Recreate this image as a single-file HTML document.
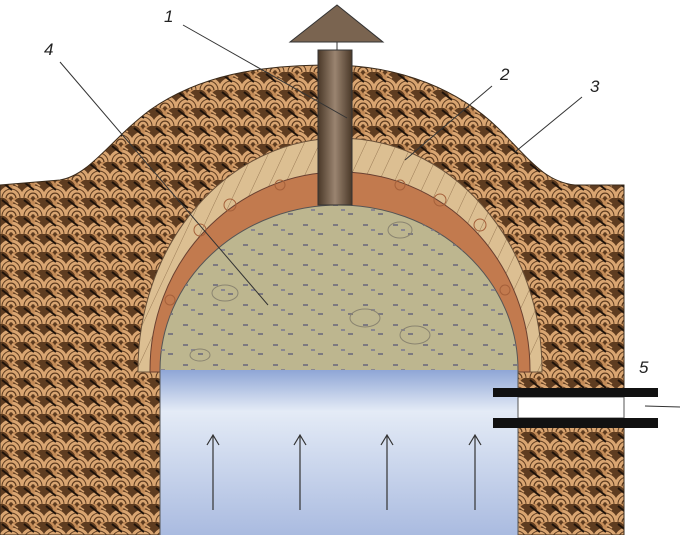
<!DOCTYPE html>
<html><head><meta charset="utf-8"><style>
html,body{margin:0;padding:0;background:#fff;}
svg{display:block}
text{font-family:"Liberation Sans",sans-serif;font-style:italic;font-size:17px;fill:#222}
</style></head><body>
<svg width="680" height="535" viewBox="0 0 680 535" xmlns="http://www.w3.org/2000/svg">
<defs>
<pattern id="soil" width="22" height="18" patternUnits="userSpaceOnUse">
<rect width="22" height="18" fill="#5e3c20"/>
<path d="M0 18 A11 11 0 0 1 22 18" fill="none" stroke="#d9a571" stroke-width="3"/>
<path d="M4 18 A7 7 0 0 1 18 18" fill="none" stroke="#d9a571" stroke-width="3"/>
<path d="M8 18 A3 3 0 0 1 14 18" fill="none" stroke="#d9a571" stroke-width="2.5"/>
<path d="M-11 9 A11 11 0 0 1 11 9 M11 9 A11 11 0 0 1 33 9" fill="none" stroke="#c48c58" stroke-width="2.5"/>
<line x1="2" y1="2" x2="12" y2="10" stroke="#1e120a" stroke-width="2"/>
<line x1="12" y1="2" x2="18" y2="6" stroke="#d9a571" stroke-width="1.5"/>
</pattern>
<pattern id="hatch" width="14" height="14" patternUnits="userSpaceOnUse" patternTransform="rotate(25)">
<rect width="14" height="14" fill="#dcbf92"/>
<line x1="0" y1="0" x2="0" y2="14" stroke="#9a7a55" stroke-width="1"/>
</pattern>
<linearGradient id="water" x1="0" y1="0" x2="0" y2="1">
<stop offset="0" stop-color="#8fa6d6"/>
<stop offset="0.25" stop-color="#e4ebf6"/>
<stop offset="1" stop-color="#aabbe0"/>
</linearGradient>
<linearGradient id="pipe" x1="0" y1="0" x2="1" y2="0">
<stop offset="0" stop-color="#4a3828"/>
<stop offset="0.5" stop-color="#9a8470"/>
<stop offset="1" stop-color="#4a3828"/>
</linearGradient>
<pattern id="dots" width="30" height="20" patternUnits="userSpaceOnUse">
<rect x="3" y="4" width="5" height="2" fill="#7d7a80"/>
<rect x="18" y="13" width="5" height="2" fill="#7d7a80"/>
<rect x="11" y="9" width="4" height="2" fill="#8a8790"/>
</pattern>
</defs>
<path d="M0 185 L60 180 C90 175 110 140 150 110 C200 75 260 65 330 65 C400 65 460 90 500 130 C530 160 545 182 575 185 L624 185 L624 535 L0 535 Z" fill="url(#soil)" stroke="#3a2a1a" stroke-width="1"/>
<path d="M138 372 L138 370 A202 232 0 0 1 542 370 L542 372 Z" fill="url(#hatch)" stroke="#6a5038" stroke-width="1"/>
<path d="M150 372 L150 370 A190 198 0 0 1 530 370 L530 372 Z" fill="#c27a4e" stroke="#6a4030" stroke-width="1"/>
<g fill="none" stroke="#a5603a"><circle cx="200" cy="230" r="6"/><circle cx="230" cy="205" r="6"/><circle cx="440" cy="200" r="6"/><circle cx="480" cy="225" r="6"/><circle cx="170" cy="300" r="5"/><circle cx="505" cy="290" r="5"/><circle cx="280" cy="185" r="5"/><circle cx="400" cy="185" r="5"/></g>
<path d="M160 372 L160 370 A179 165 0 0 1 518 370 L518 372 Z" fill="#bdb68f" stroke="#555" stroke-width="1"/>
<path d="M160 370 A179 165 0 0 1 518 370 Z" fill="url(#dots)"/>
<g fill="none" stroke="#8a8470"><ellipse cx="225" cy="293" rx="13" ry="8"/><ellipse cx="365" cy="318" rx="15" ry="9"/><ellipse cx="415" cy="335" rx="15" ry="9"/><ellipse cx="400" cy="230" rx="12" ry="8"/><ellipse cx="200" cy="355" rx="10" ry="6"/></g>
<rect x="160" y="370" width="358" height="165" fill="url(#water)"/>
<line x1="160" y1="370" x2="160" y2="535" stroke="#555"/><line x1="518" y1="370" x2="518" y2="535" stroke="#555"/>
<g stroke="#333" stroke-width="1.2" fill="none">
<path d="M213 510 V435 M207 445 L213 435 L219 445"/>
<path d="M300 510 V435 M294 445 L300 435 L306 445"/>
<path d="M387 510 V435 M381 445 L387 435 L393 445"/>
<path d="M475 510 V435 M469 445 L475 435 L481 445"/>
</g>
<rect x="518" y="397" width="106" height="21" fill="#fff" stroke="#555"/>
<rect x="493" y="388" width="165" height="9" fill="#111"/>
<rect x="493" y="418" width="165" height="10" fill="#111"/>
<rect x="318" y="50" width="34" height="155" fill="url(#pipe)" stroke="#333"/>
<line x1="337" y1="42" x2="337" y2="50" stroke="#333"/>
<path d="M290 42 L337 5 L383 42 Z" fill="#7a6450" stroke="#333"/>
<g stroke="#333" stroke-width="1">
<line x1="183" y1="25" x2="347" y2="118"/>
<line x1="60" y1="62" x2="268" y2="305"/>
<line x1="492" y1="86" x2="405" y2="160"/>
<line x1="582" y1="97" x2="515" y2="152"/>
<line x1="645" y1="406" x2="680" y2="407"/>
</g>
<text x="164" y="22">1</text>
<text x="44" y="55">4</text>
<text x="500" y="80">2</text>
<text x="590" y="92">3</text>
<text x="639" y="373">5</text>
</svg>
</body></html>
